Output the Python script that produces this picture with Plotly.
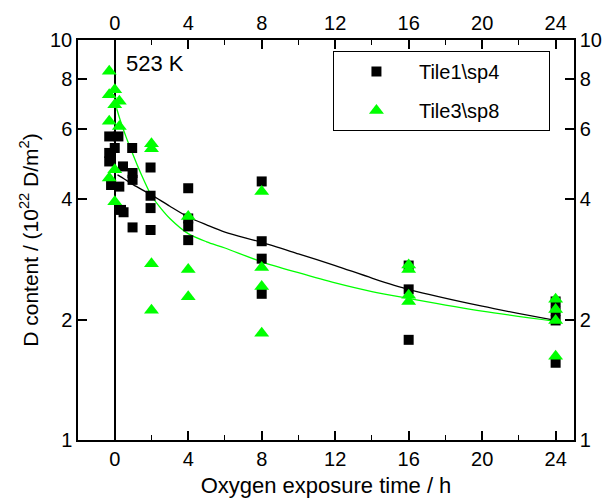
import plotly.graph_objects as go

# Tile1\sp4 (black squares)
t1_time = [-0.3, 0.2, 0.0, -0.3, -0.3, 0.45, -0.2, 0.25, 0.34, 0.48,
           0.95, 0.97, 0.97, 0.97,
           1.95, 1.95, 1.95, 1.95,
           4, 4, 4, 4,
           8, 8, 8, 8,
           16, 16, 16,
           24, 24, 24, 24]
t1_D = [5.74, 5.74, 5.37, 5.22, 4.97, 4.83, 4.34, 4.30, 3.76, 3.71,
        5.37, 4.65, 4.47, 3.40,
        4.80, 4.08, 3.80, 3.35,
        4.26, 3.58, 3.42, 3.16,
        4.43, 3.14, 2.84, 2.32,
        2.73, 2.38, 1.78,
        2.22, 2.10, 1.99, 1.56]

# Tile3\sp8 (green triangles)
t3_time = [-0.3, 0.0, -0.3, 0.25, 0.0, -0.3, 0.25, 0.0, -0.3, 0.0,
           2, 2, 2, 2,
           4, 4, 4,
           8, 8, 8, 8,
           16, 16, 16, 16,
           24, 24, 24, 24]
t3_D = [8.35, 7.51, 7.30, 7.03, 6.89, 6.26, 6.08, 4.74, 4.52, 3.94,
        5.50, 5.35, 2.76, 2.11,
        3.62, 2.67, 2.28,
        4.18, 2.70, 2.42, 1.85,
        2.74, 2.67, 2.30, 2.22,
        2.25, 2.12, 1.99, 1.62]

# fit curves
fit1_time = [0.15, 0.5, 1, 1.5, 2, 3, 4, 5, 6, 8, 10, 12, 14, 16, 20, 24]
fit1_D = [4.60, 4.50, 4.35, 4.22, 4.10, 3.84, 3.61, 3.45, 3.31, 3.12, 2.92, 2.73, 2.54, 2.38, 2.16, 1.99]
fit3_time = [0.1, 0.3, 0.6, 0.9, 1.2, 1.6, 2, 2.5, 3, 4, 5, 6, 8, 10, 12, 14, 16, 20, 24]
fit3_D = [6.75, 6.30, 5.75, 5.30, 4.90, 4.45, 4.08, 3.80, 3.58, 3.28, 3.13, 3.02, 2.79, 2.62, 2.47, 2.35, 2.26, 2.10, 1.98]

x_ticks = [0, 4, 8, 12, 16, 20, 24]
y_ticks = [1, 2, 4, 6, 8, 10]
y_ticklabels = ["1", "2", "4", "6", "8", "10"]

FONT = "Liberation Sans, Arial, sans-serif"
GREEN = "#00ff00"
PAD = "\u00a0" * 8

fig = go.Figure()
fig.add_trace(go.Scatter(x=fit1_time, y=fit1_D, mode="lines", line=dict(color="black", width=1.3, shape="spline", smoothing=0.8),
                         showlegend=False, hoverinfo="skip"))
fig.add_trace(go.Scatter(x=fit3_time, y=fit3_D, mode="lines", line=dict(color=GREEN, width=1.3, shape="spline", smoothing=0.8),
                         showlegend=False, hoverinfo="skip"))
fig.add_trace(go.Scatter(x=t1_time, y=t1_D, mode="markers", name="Tile1\\sp4" + PAD, legendgroup="a",
                         marker=dict(symbol="square", size=10, color="black", line=dict(width=0))))
fig.add_trace(go.Scatter(x=t3_time, y=t3_D, mode="markers", name="Tile3\\sp8" + PAD, legendgroup="b",
                         marker=dict(symbol="triangle-up", size=13, color=GREEN, line=dict(width=0))))
fig.add_trace(go.Scatter(x=[], y=[], xaxis="x2", yaxis="y2", showlegend=False))

axis_common = dict(showline=True, linecolor="black", linewidth=1.5, ticks="inside", tickcolor="black",
                   tickwidth=1.5, showgrid=False, automargin=False,
                   tickfont=dict(family=FONT, size=20, color="black"))

fig.update_layout(
    width=608, height=498,
    margin=dict(l=78, r=34, t=40, b=58),
    paper_bgcolor="white", plot_bgcolor="white",
    font=dict(family=FONT, size=20, color="black"),
    xaxis=dict(range=[-2, 25], tickvals=x_ticks, ticklen=9, zeroline=True, zerolinecolor="black",
               zerolinewidth=2, minor=dict(dtick=2, ticklen=5, ticks="inside", tickcolor="black", tickwidth=1.2),
               title=dict(text="Oxygen exposure time / h", font=dict(family=FONT, size=22), standoff=9),
               **axis_common),
    xaxis2=dict(range=[-2, 25], tickvals=x_ticks, ticklen=9, overlaying="x", side="top", anchor="y",
                zeroline=False, minor=dict(dtick=2, ticklen=5, ticks="inside", tickcolor="black", tickwidth=1.2),
                **axis_common),
    yaxis=dict(type="log", range=[0, 1], tickvals=y_ticks, ticktext=y_ticklabels, ticklen=9,
               title=dict(text="D content / (10<sup>22</sup> D/m<sup>2</sup>)", font=dict(family=FONT, size=21),
                          standoff=6),
               **axis_common),
    yaxis2=dict(type="log", range=[0, 1], tickvals=y_ticks, ticktext=y_ticklabels, ticklen=9,
                overlaying="y", side="right", anchor="x", **axis_common),
    legend=dict(x=0.514, y=0.9725, xanchor="left", yanchor="top", bordercolor="black", borderwidth=1,
                bgcolor="white", font=dict(family=FONT, size=20), traceorder="grouped", tracegroupgap=10,
                itemwidth=75),
    annotations=[dict(x=0.5, y=0.941, xref="x", yref="y", text="523 K", showarrow=False, xanchor="left",
                      yanchor="middle", font=dict(family=FONT, size=22))],
)

fig.write_html("out.html")
